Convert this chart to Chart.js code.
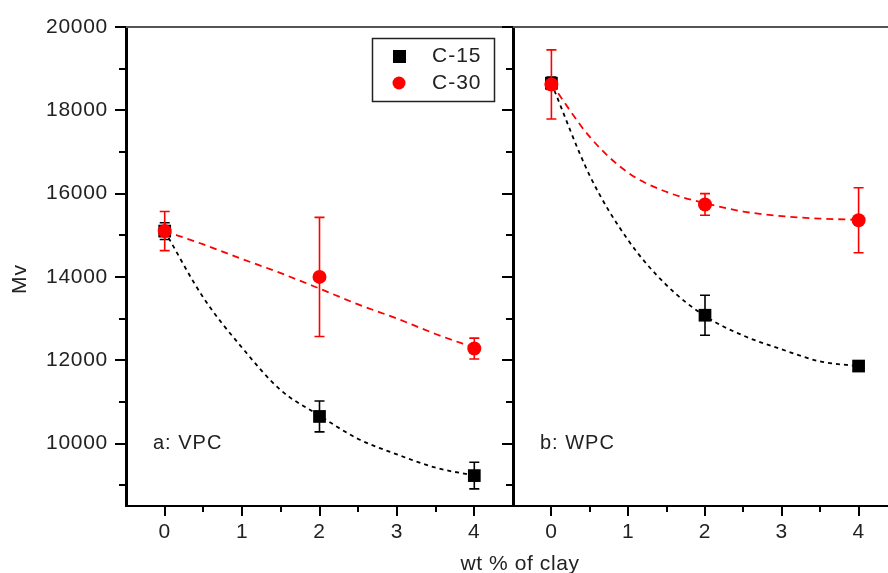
<!DOCTYPE html>
<html lang="en">
<head>
<meta charset="UTF-8">
<title>Mv vs wt % of clay</title>
<script src="https://cdn.jsdelivr.net/npm/chart.js"></script>
<style>
    html, body {
        margin: 0;
        padding: 0;
        background: #fff;
        overflow: hidden;
    }
    body {
        width: 888px;
        height: 573px;
        position: relative;
        font-family: 'Liberation Sans', Arial, sans-serif;
    }
    #leftBox, #rightBox {
        position: absolute;
        top: 0;
        height: 573px;
    }
    #leftBox { left: 0; width: 520px; }
    #rightBox { left: 499px; width: 398px; }
    #xtitle {
        position: absolute;
        left: 420px;
        width: 200px;
        top: 551px;
        text-align: center;
        font-size: 21px;
        letter-spacing: 0.6px;
        line-height: 24px;
        color: #222;
    }
</style>
</head>
<body>
<div id="leftBox"><canvas id="left" width="520" height="573"></canvas></div>
<div id="rightBox"><canvas id="right" width="398" height="573"></canvas></div>
<div id="xtitle">wt % of clay</div>

<script>
const xTicks = [0, 1, 2, 3, 4];
const xMinor = [0.5, 1.5, 2.5, 3.5];
const yTicks = [10000, 12000, 14000, 16000, 18000, 20000];
const yMinor = [9000, 11000, 13000, 15000, 17000, 19000];
const seriesNames = ['C-15', 'C-30'];
const clay = [0, 2, 4];

// panel a: VPC
const vpcC15 = [15100, 10650, 9230];
const vpcC15Err = [200, 370, 320];
const vpcC30 = [15100, 14000, 12280];
const vpcC30Err = [470, 1430, 250];

// panel b: WPC
const wpcC15 = [18650, 13080, 11860];
const wpcC15Err = [150, 480, 100];
const wpcC30 = [18620, 15740, 15360];
const wpcC30Err = [830, 260, 780];

// dashed fit curves
const fitX = [0, 0.5, 1, 1.5, 2, 2.5, 3, 3.5, 4];
const vpcFit15 = [15100, 13500, 12300, 11280, 10670, 10110, 9740, 9420, 9230];
const vpcFit30 = [15100, 14780, 14430, 14090, 13720, 13340, 13000, 12630, 12300];
const wpcFit15 = [18650, 16430, 14880, 13800, 13060, 12590, 12260, 11970, 11860];
const wpcFit30 = [18640, 17360, 16500, 16040, 15770, 15570, 15460, 15400, 15370];

const colors = { 'C-15': '#000000', 'C-30': '#ff0000' };
const markers = { 'C-15': 'rect', 'C-30': 'circle' };

Chart.defaults.font.family = "'Liberation Sans', Arial, sans-serif";
Chart.defaults.font.size = 21;
Chart.defaults.color = '#222';

function pts(xs, ys) {
    return xs.map((x, i) => ({ x: x, y: ys[i] }));
}

function fitSet(name, ys, order) {
    return {
        label: name + ' fit',
        data: pts(fitX, ys),
        showLine: true,
        borderColor: colors[name],
        borderWidth: 1.8,
        borderDash: name === 'C-15' ? [4, 4] : [7, 5],
        pointRadius: 0,
        tension: 0.4,
        cubicInterpolationMode: 'monotone',
        order: order
    };
}

function markSet(name, ys, err, order) {
    return {
        label: name,
        data: pts(clay, ys),
        err: err,
        showLine: false,
        pointStyle: markers[name],
        pointRadius: name === 'C-15' ? 9 : 7,
        backgroundColor: colors[name],
        borderColor: colors[name],
        borderWidth: 0,
        order: order
    };
}

// error bars go under each marker set, drawn with the chart's scales
const errorBars = {
    id: 'errorBars',
    beforeDatasetDraw(chart, args) {
        const ds = chart.data.datasets[args.index];
        if (!ds.err) return;
        const { ctx } = chart;
        const xs = chart.scales.x, ys = chart.scales.y;
        ctx.save();
        ctx.strokeStyle = ds.borderColor;
        ctx.lineWidth = 1.6;
        ds.data.forEach((p, i) => {
            const px = xs.getPixelForValue(p.x);
            const top = ys.getPixelForValue(p.y + ds.err[i]);
            const bot = ys.getPixelForValue(p.y - ds.err[i]);
            ctx.beginPath();
            ctx.moveTo(px, top); ctx.lineTo(px, bot);
            ctx.moveTo(px - 5, top); ctx.lineTo(px + 5, top);
            ctx.moveTo(px - 5, bot); ctx.lineTo(px + 5, bot);
            ctx.stroke();
        });
        ctx.restore();
    }
};

// top frame line, minor ticks, panel label, legend, y title
const panel = {
    id: 'panel',
    beforeDraw(chart) {
        // a little letter spacing, like the original labels
        chart.ctx.letterSpacing = '0.7px';
    },
    afterDraw(chart, args, opts) {
        const { ctx, chartArea: a } = chart;
        const xs = chart.scales.x, ys = chart.scales.y;
        ctx.save();

        ctx.strokeStyle = '#555';
        ctx.lineWidth = 2;
        ctx.beginPath();
        ctx.moveTo(a.left, a.top);
        ctx.lineTo(a.right, a.top);
        ctx.stroke();

        ctx.strokeStyle = '#000';
        ctx.beginPath();
        yMinor.forEach(v => {
            const py = Math.round(ys.getPixelForValue(v));
            ctx.moveTo(a.left - 7, py);
            ctx.lineTo(a.left, py);
        });
        xMinor.forEach(v => {
            const px = Math.round(xs.getPixelForValue(v));
            ctx.moveTo(px, a.bottom);
            ctx.lineTo(px, a.bottom + 6);
        });
        ctx.stroke();

        ctx.fillStyle = '#222';
        ctx.font = "20px 'Liberation Sans', Arial, sans-serif";
        ctx.textBaseline = 'middle';
        ctx.textAlign = 'left';
        ctx.letterSpacing = '1px';
        ctx.fillText(opts.label, a.left + 27, 443);

        if (opts.legend) {
            ctx.strokeStyle = '#222';
            ctx.lineWidth = 1.5;
            ctx.strokeRect(372.5, 38.5, 122, 63);
            ctx.font = "21px 'Liberation Sans', Arial, sans-serif";
            seriesNames.forEach((name, i) => {
                const cy = 56 + i * 27;
                ctx.fillStyle = colors[name];
                if (markers[name] === 'rect') {
                    ctx.fillRect(393, cy - 6, 13, 13);
                } else {
                    ctx.beginPath();
                    ctx.arc(399, cy, 6.5, 0, Math.PI * 2);
                    ctx.fill();
                }
                ctx.fillStyle = '#222';
                ctx.fillText(name, 432, cy);
            });
        }

        if (opts.yTitle) {
            ctx.font = "21px 'Liberation Sans', Arial, sans-serif";
            ctx.translate(20, 279);
            ctx.rotate(-Math.PI / 2);
            ctx.textAlign = 'center';
            ctx.fillStyle = '#222';
            ctx.fillText(opts.yTitle, 0, 0);
        }
        ctx.restore();
    }
};

function makeChart(id, datasets, showY, label) {
    return new Chart(document.getElementById(id), {
        type: 'scatter',
        data: { datasets: datasets },
        plugins: [errorBars, panel],
        options: {
            responsive: false,
            animation: false,
            layout: {
                autoPadding: false,
                padding: { top: 27, right: showY ? 7 : 0, left: 0, bottom: 0 }
            },
            plugins: {
                legend: { display: false },
                tooltip: { enabled: false },
                panel: { label: label, legend: showY, yTitle: showY ? 'Mv' : '' }
            },
            scales: {
                x: {
                    type: 'linear',
                    min: -0.5,
                    max: 4.5,
                    afterBuildTicks: s => { s.ticks = xTicks.map(v => ({ value: v })); },
                    afterFit: s => { s.height = 67; },
                    grid: { drawOnChartArea: false, tickLength: 10, lineWidth: 2, color: '#000' },
                    border: { color: '#000', width: 2 },
                    ticks: { padding: 4, color: '#222', callback: v => String(v) }
                },
                y: {
                    type: 'linear',
                    min: 8500,
                    max: 20000,
                    afterBuildTicks: s => { s.ticks = yTicks.map(v => ({ value: v })); },
                    afterFit: s => { s.width = showY ? 126 : 14; },
                    grid: { drawOnChartArea: false, tickLength: 11, lineWidth: 2, color: '#000' },
                    border: { color: '#000', width: 3 },
                    ticks: { display: showY, padding: 7, color: '#222', callback: v => String(v) }
                }
            }
        }
    });
}

makeChart('left', [
    fitSet('C-15', vpcFit15, 4),
    fitSet('C-30', vpcFit30, 3),
    markSet('C-15', vpcC15, vpcC15Err, 2),
    markSet('C-30', vpcC30, vpcC30Err, 1)
], true, 'a: VPC');

makeChart('right', [
    fitSet('C-15', wpcFit15, 4),
    fitSet('C-30', wpcFit30, 3),
    markSet('C-15', wpcC15, wpcC15Err, 2),
    markSet('C-30', wpcC30, wpcC30Err, 1)
], false, 'b: WPC');
</script>
</body>
</html>
